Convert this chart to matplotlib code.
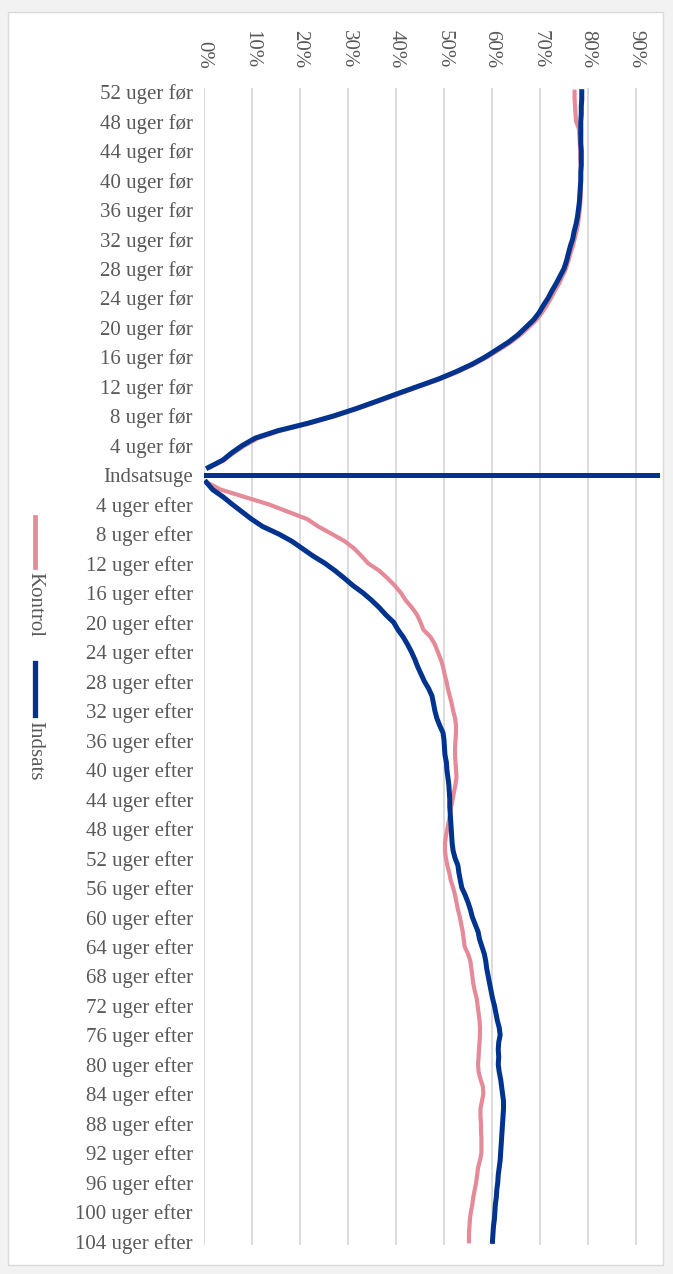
import numpy as np
import matplotlib
matplotlib.use("Agg")
import matplotlib.pyplot as plt
from matplotlib.lines import Line2D
from matplotlib.patches import Rectangle

plt.rcParams['font.family'] = ['Liberation Serif', 'DejaVu Serif']

# weeks relative to the intervention week (0 = Indsatsuge, no value there)
weeks_before = list(range(-52, 0))
weeks_after = list(range(1, 105))

# share in %
indsats_before = [
    78.7, 78.7, 78.6, 78.6, 78.5, 78.5, 78.5, 78.5, 78.6, 78.6,
    78.6, 78.5, 78.5, 78.4, 78.3, 78.2, 78.0, 77.8, 77.5, 77.1,
    76.8, 76.3, 75.9, 75.5, 75.0, 74.2, 73.4, 72.5, 71.7, 70.7,
    69.8, 68.6, 67.0, 65.4, 63.4, 61.0, 58.6, 55.8, 52.5, 48.8,
    44.5, 40.2, 36.0, 31.7, 27.0, 21.6, 15.4, 10.7, 8.0, 5.8,
    3.9, 0.9]
kontrol_before = [
    77.2, 77.2, 77.3, 77.4, 77.5, 78.1, 78.2, 78.3, 78.4, 78.4,
    78.5, 78.5, 78.5, 78.5, 78.5, 78.4, 78.3, 78.1, 77.9, 77.6,
    77.2, 76.8, 76.3, 75.9, 75.4, 74.7, 74.0, 73.1, 72.3, 71.4,
    70.4, 69.2, 67.6, 65.9, 63.9, 61.5, 59.0, 56.2, 52.9, 49.2,
    44.9, 40.6, 36.4, 32.1, 27.4, 22.0, 15.9, 11.3, 8.5, 6.2,
    4.2, 1.2]
indsats_after = [
    0.5, 1.8, 4.0, 5.9, 7.9, 9.9, 12.2, 15.5, 18.3, 20.5,
    22.7, 25.2, 27.3, 29.2, 31.0, 33.1, 34.9, 36.5, 37.9, 39.5,
    40.4, 41.5, 42.4, 43.2, 43.9, 44.5, 45.2, 45.9, 46.8, 47.5,
    47.8, 48.1, 48.5, 49.1, 49.8, 50.0, 50.1, 50.2, 50.5, 50.6,
    50.8, 51.0, 51.1, 51.2, 51.2, 51.3, 51.4, 51.5, 51.6, 51.7,
    51.9, 52.3, 52.9, 53.1, 53.4, 53.7, 54.4, 55.0, 55.5, 55.9,
    56.5, 57.1, 57.4, 57.9, 58.4, 58.7, 58.9, 59.2, 59.5, 59.8,
    60.1, 60.5, 60.8, 61.1, 61.5, 61.7, 61.4, 61.3, 61.4, 61.3,
    61.5, 61.8, 62.0, 62.2, 62.4, 62.4, 62.3, 62.2, 62.1, 62.0,
    61.9, 61.8, 61.7, 61.5, 61.3, 61.2, 61.0, 60.9, 60.7, 60.6,
    60.5, 60.3, 60.2, 60.1]
kontrol_after = [
    0.5, 3.5, 8.5, 13.5, 17.5, 21.5, 23.8, 26.6, 29.3, 31.3,
    32.8, 34.2, 36.5, 38.2, 39.7, 41.0, 42.0, 43.3, 44.4, 45.1,
    45.7, 47.2, 48.1, 48.7, 49.3, 49.8, 50.1, 50.5, 50.8, 51.2,
    51.6, 51.9, 52.3, 52.5, 52.5, 52.4, 52.3, 52.3, 52.4, 52.5,
    52.6, 52.4, 52.1, 51.8, 51.5, 51.3, 51.0, 50.7, 50.4, 50.2,
    50.2, 50.4, 50.7, 51.1, 51.4, 51.9, 52.3, 52.6, 52.9, 53.3,
    53.6, 53.9, 54.1, 54.3, 55.0, 55.5, 55.7, 55.9, 56.1, 56.4,
    56.8, 57.0, 57.2, 57.4, 57.5, 57.5, 57.4, 57.3, 57.2, 57.1,
    57.2, 57.6, 58.1, 58.2, 57.9, 57.6, 57.6, 57.7, 57.7, 57.8,
    57.8, 57.8, 57.5, 57.1, 56.9, 56.7, 56.4, 56.1, 55.9, 55.6,
    55.4, 55.3, 55.2, 55.2]
indsatsuge_value = 100.0

label_weeks = list(range(-52, 105, 4))
week_labels = [f"{-w} uger før" if w < 0 else ("Indsatsuge" if w == 0 else f"{w} uger efter")
               for w in label_weeks]
pct_ticks = [0, 10, 20, 30, 40, 50, 60, 70, 80, 90]

BLUE = "#00338D"
PINK = "#E48A98"
GREY = "#595959"

weeks = weeks_before + [0] + weeks_after
kontrol = np.array(kontrol_before + [np.nan] + kontrol_after) / 100
indsats = np.array(indsats_before + [np.nan] + indsats_after) / 100

W, H = 673, 1274
fig = plt.figure(figsize=(W / 100, H / 100), dpi=100, facecolor="#f2f2f2")
fig.add_artist(Rectangle((8 / W, 9 / H), 655 / W, 1253 / H, transform=fig.transFigure,
                         facecolor="white", edgecolor="#d9d9d9", linewidth=1, zorder=-5))

ax = fig.add_axes([204 / W, 1 - 1245 / H, 456 / W, (1245 - 88) / H])
ax.set_facecolor("none")

ax.plot(kontrol, weeks, color=PINK, lw=3.0, zorder=3)
ax.plot(indsats, weeks, color=BLUE, lw=3.6, zorder=4)
ax.plot([0, indsatsuge_value / 100], [0, 0], color=BLUE, lw=3.6, zorder=4,
        solid_capstyle="projecting")

ax.set_xlim(0, 0.95)
ax.set_ylim(104.5, -52.5)

ax.xaxis.tick_top()
ax.set_xticks([p / 100 for p in pct_ticks])
ax.set_xticklabels([f"{p}%" for p in pct_ticks], rotation=-90, color=GREY, fontsize=15)
ax.set_yticks(label_weeks)
ax.set_yticklabels(week_labels, color=GREY, fontsize=15)
ax.tick_params(axis="x", length=0, pad=14)
ax.tick_params(axis="y", length=0, pad=8)
ax.grid(axis="x", color="#d9d9d9", lw=1.3)
ax.set_axisbelow(True)
for s in ax.spines.values():
    s.set_visible(False)

# legend drawn by hand (rotated like the rest of the chart)
def legend_item(y0, y1, color, lw, text, ty):
    fig.add_artist(Line2D([35 / W, 35 / W], [1 - y0 / H, 1 - y1 / H], color=color, lw=lw,
                          transform=fig.transFigure))
    fig.text(35 / W, 1 - ty / H, text, rotation=-90, ha="center", va="top",
             color=GREY, fontsize=15)

legend_item(517, 567, PINK, 3.4, "Kontrol", 572)
legend_item(663, 715, BLUE, 3.8, "Indsats", 721)

fig.savefig("out.png", dpi=100, facecolor=fig.get_facecolor())
